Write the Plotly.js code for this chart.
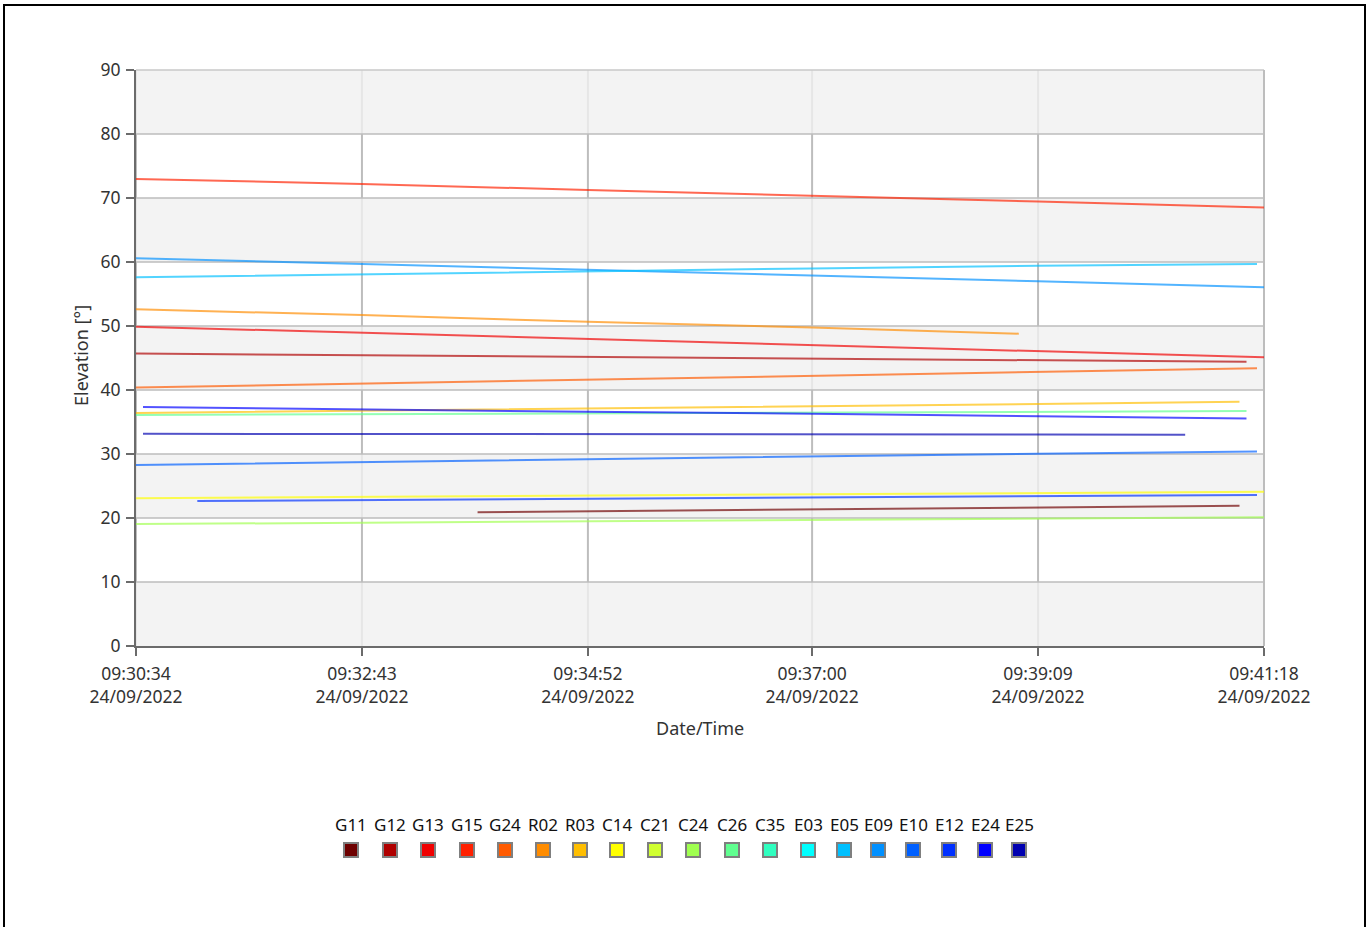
<!DOCTYPE html>
<html>
<head>
<meta charset="utf-8">
<script src="https://cdn.plot.ly/plotly-3.0.1.min.js"></script>
<style>html,body{margin:0;padding:0;background:#fff;}#chart{width:1366px;height:927px;}</style>
</head>
<body>
<div id="chart"></div>
<script>
// ---- data ----
const tickTimes = ["2022-09-24 09:30:34","2022-09-24 09:32:43","2022-09-24 09:34:52","2022-09-24 09:37:00","2022-09-24 09:39:09","2022-09-24 09:41:18"];
const tickLabels = ["09:30:34<br>24/09/2022","09:32:43<br>24/09/2022","09:34:52<br>24/09/2022","09:37:00<br>24/09/2022","09:39:09<br>24/09/2022","09:41:18<br>24/09/2022"];

const legendNames = ["G11","G12","G13","G15","G24","R02","R03","C14","C21","C24","C26","C35","E03","E05","E09","E10","E12","E24","E25"];
const legendColors = ["#6e0000","#b00000","#f00000","#ff2000","#ff5a00","#ff8c00","#ffbe00","#ffff00","#d0ff30","#a0ff50","#60ff90","#30ffc0","#00ffff","#00c0ff","#0090ff","#0060ff","#0030ff","#0000ff","#0000b0"];

const G15_t = ["2022-09-24 09:30:34","2022-09-24 09:32:43","2022-09-24 09:34:52","2022-09-24 09:37:00","2022-09-24 09:39:09","2022-09-24 09:41:18"];
const G15_v = [72.97,72.2,71.25,70.4,69.45,68.5];
const E09_t = ["2022-09-24 09:30:34","2022-09-24 09:32:43","2022-09-24 09:34:52","2022-09-24 09:37:00","2022-09-24 09:39:09","2022-09-24 09:41:18"];
const E09_v = [60.6,59.7,58.9,58.0,57.0,56.05];
const E05_t = ["2022-09-24 09:30:34","2022-09-24 09:32:43","2022-09-24 09:34:52","2022-09-24 09:37:00","2022-09-24 09:39:09","2022-09-24 09:41:14"];
const E05_v = [57.6,58.1,58.6,59.0,59.4,59.7];
const R02_t = ["2022-09-24 09:30:34","2022-09-24 09:32:43","2022-09-24 09:34:52","2022-09-24 09:37:00","2022-09-24 09:38:58"];
const R02_v = [52.6,51.7,50.65,49.75,48.8];
const G13_t = ["2022-09-24 09:30:34","2022-09-24 09:32:43","2022-09-24 09:34:52","2022-09-24 09:37:00","2022-09-24 09:39:09","2022-09-24 09:41:18"];
const G13_v = [49.9,48.95,48.0,47.0,46.05,45.1];
const G12_t = ["2022-09-24 09:30:34","2022-09-24 09:32:43","2022-09-24 09:34:52","2022-09-24 09:37:00","2022-09-24 09:39:09","2022-09-24 09:41:08"];
const G12_v = [45.7,45.45,45.2,44.95,44.7,44.4];
const G24_t = ["2022-09-24 09:30:34","2022-09-24 09:32:43","2022-09-24 09:34:52","2022-09-24 09:37:00","2022-09-24 09:39:09","2022-09-24 09:41:14"];
const G24_v = [40.4,41.0,41.6,42.2,42.8,43.4];
const E24_t = ["2022-09-24 09:30:38","2022-09-24 09:32:43","2022-09-24 09:34:52","2022-09-24 09:37:00","2022-09-24 09:39:09","2022-09-24 09:41:08"];
const E24_v = [37.35,36.95,36.6,36.3,35.95,35.55];
const R03_t = ["2022-09-24 09:30:34","2022-09-24 09:32:43","2022-09-24 09:34:52","2022-09-24 09:37:00","2022-09-24 09:39:09","2022-09-24 09:41:04"];
const R03_v = [36.4,36.75,37.0,37.35,37.8,38.15];
const C26_t = ["2022-09-24 09:30:34","2022-09-24 09:32:43","2022-09-24 09:34:52","2022-09-24 09:37:00","2022-09-24 09:39:09","2022-09-24 09:41:08"];
const C26_v = [36.1,36.2,36.35,36.45,36.6,36.7];
const E25_t = ["2022-09-24 09:30:38","2022-09-24 09:32:43","2022-09-24 09:34:52","2022-09-24 09:37:00","2022-09-24 09:39:09","2022-09-24 09:40:33"];
const E25_v = [33.15,33.15,33.1,33.1,33.05,33.0];
const E10_t = ["2022-09-24 09:30:34","2022-09-24 09:32:43","2022-09-24 09:34:52","2022-09-24 09:37:00","2022-09-24 09:39:09","2022-09-24 09:41:14"];
const E10_v = [28.3,28.75,29.2,29.65,30.05,30.4];
const C14_t = ["2022-09-24 09:30:34","2022-09-24 09:32:43","2022-09-24 09:34:52","2022-09-24 09:37:00","2022-09-24 09:39:09","2022-09-24 09:41:18"];
const C14_v = [23.1,23.3,23.5,23.7,23.9,24.1];
const E12_t = ["2022-09-24 09:31:09","2022-09-24 09:32:43","2022-09-24 09:34:52","2022-09-24 09:37:00","2022-09-24 09:39:09","2022-09-24 09:41:14"];
const E12_v = [22.65,22.8,23.0,23.2,23.4,23.6];
const G11_t = ["2022-09-24 09:33:49","2022-09-24 09:34:52","2022-09-24 09:37:00","2022-09-24 09:39:09","2022-09-24 09:41:04"];
const G11_v = [20.9,21.05,21.35,21.65,21.9];
const C24_t = ["2022-09-24 09:30:34","2022-09-24 09:32:43","2022-09-24 09:34:52","2022-09-24 09:37:00","2022-09-24 09:39:09","2022-09-24 09:41:18"];
const C24_v = [19.05,19.25,19.45,19.7,19.9,20.1];

// ---- layout helpers ----
const L = 136, R = 1264, T = 70, B = 646;
const px = p => (p - L) / (R - L);
const py = p => (B - p) / (B - T);
const colorOf = n => legendColors[legendNames.indexOf(n)];

const series = [
  ["G15",G15_t,G15_v],["E09",E09_t,E09_v],["E05",E05_t,E05_v],["R02",R02_t,R02_v],
  ["G13",G13_t,G13_v],["G12",G12_t,G12_v],["G24",G24_t,G24_v],["C26",C26_t,C26_v],
  ["R03",R03_t,R03_v],["E24",E24_t,E24_v],["E25",E25_t,E25_v],["E10",E10_t,E10_v],
  ["C14",C14_t,C14_v],["E12",E12_t,E12_v],["G11",G11_t,G11_v],["C24",C24_t,C24_v]
];

const traces = series.map(([n,t,v]) => ({
  type: 'scatter', mode: 'lines', name: n, x: t, y: v,
  line: {color: colorOf(n), width: 2}, opacity: 0.68,
  showlegend: false, hoverinfo: 'x+y+name'
}));

const shapes = [];
tickTimes.forEach(t => shapes.push({type:'line', xref:'x', yref:'paper', x0:t, x1:t, y0:0, y1:1, line:{color:'#e6e6e6', width:2}, layer:'below'}));
[[10,20],[30,40],[50,60],[70,80]].forEach(([a,b]) => {
  shapes.push({type:'rect', xref:'paper', yref:'y', x0:0, x1:1, y0:a, y1:b, fillcolor:'#ffffff', line:{color:'#bdbdbd', width:1.5}, layer:'below'});
  tickTimes.forEach(t => shapes.push({type:'line', xref:'x', yref:'y', x0:t, x1:t, y0:a, y1:b, line:{color:'#bdbdbd', width:2}, layer:'below'}));
});
shapes.push({type:'line', xref:'paper', yref:'paper', x0:0, x1:1, y0:1, y1:1, line:{color:'#c8c8c8', width:1.5}, layer:'below'});
shapes.push({type:'line', xref:'paper', yref:'paper', x0:1, x1:1, y0:0, y1:1, line:{color:'#bdbdbd', width:2}, layer:'below'});
shapes.push({type:'rect', xref:'paper', yref:'paper', x0:px(4), x1:px(1365), y0:py(5), y1:py(940), line:{color:'#000', width:2}, fillcolor:'rgba(0,0,0,0)'});

const legendX = [351,390,428,467,505,543,580,617,655,693,732,770,808,844,878,913,949,985,1019];
const annotations = [];
legendNames.forEach((n,i) => {
  annotations.push({xref:'paper', yref:'paper', x:px(legendX[i]), y:py(824), text:n, showarrow:false, xanchor:'center', yanchor:'middle', font:{size:17, color:'#111'}});
  shapes.push({type:'rect', xref:'paper', yref:'paper', x0:px(legendX[i]-7), x1:px(legendX[i]+7), y0:py(857), y1:py(843), fillcolor:legendColors[i], line:{color:'#7f7f7f', width:2}});
});
annotations.push({xref:'paper', yref:'paper', x:px(700), y:py(728), text:'Date/Time', showarrow:false, xanchor:'center', yanchor:'middle', font:{size:18, color:'#333'}});
annotations.push({xref:'paper', yref:'paper', x:px(81), y:py(356), text:'Elevation [°]', showarrow:false, textangle:-90, xanchor:'center', yanchor:'middle', font:{size:18, color:'#333'}});

const layout = {
  width: 1366, height: 927,
  margin: {l: L, r: 1366 - R, t: T, b: 927 - B, pad: 0},
  paper_bgcolor: '#ffffff', plot_bgcolor: '#f3f3f3',
  font: {family: '"Noto Sans", "Open Sans", sans-serif', size: 17, color: '#333'},
  showlegend: false,
  xaxis: {
    type: 'date', range: [tickTimes[0], tickTimes[tickTimes.length-1]],
    tickmode: 'array', tickvals: tickTimes, ticktext: tickLabels,
    showgrid: false, zeroline: false,
    showline: true, linecolor: '#6b6b6b', linewidth: 2,
    ticks: 'outside', ticklen: 8, tickwidth: 2, tickcolor: '#6b6b6b',
    ticklabelstandoff: 3,
    tickfont: {size: 17.5, color: '#333'}
  },
  yaxis: {
    range: [0, 90], tickmode: 'array', tickvals: [0,10,20,30,40,50,60,70,80,90],
    showgrid: false, zeroline: false,
    showline: true, linecolor: '#6b6b6b', linewidth: 2,
    ticks: 'outside', ticklen: 8, tickwidth: 2, tickcolor: '#6b6b6b',
    ticklabelstandoff: 2,
    tickfont: {size: 17.5, color: '#333'}
  },
  shapes: shapes,
  annotations: annotations
};

Plotly.newPlot('chart', traces, layout, {displayModeBar: false, staticPlot: true});
</script>
</body>
</html>
